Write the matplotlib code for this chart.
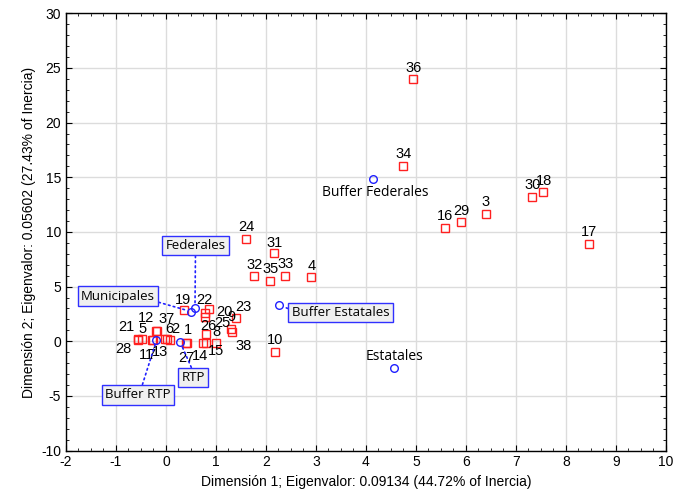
import matplotlib.pyplot as plt
from matplotlib.ticker import MultipleLocator

plt.rcParams['font.family'] = ['Liberation Sans', 'DejaVu Sans']
plt.rcParams['axes.unicode_minus'] = False

# row points (red squares)
row_ids = [str(i) for i in range(1, 39)]
row_x = [0.41, 0.08, 6.40, 2.91, -0.48, 0.03, -0.26, 0.81, 1.31, 2.19,
         -0.27, -0.19, -0.02, 0.75, 1.01, 5.58, 8.46, 7.55, 0.37, 0.78,
         -0.56, 0.87, 1.40, 1.60, 0.78, 0.81, 0.43, -0.55, 5.90, 7.33,
         2.17, 1.77, 2.39, 4.75, 2.09, 4.95, -0.17, 1.33]
row_y = [-0.13, 0.12, 11.65, 5.86, 0.18, 0.18, 0.07, -0.13, 1.10, -0.98,
         0.09, 0.94, 0.18, -0.13, -0.18, 10.39, 8.90, 13.63, 2.86, 2.56,
         0.18, 2.96, 2.10, 9.36, 2.25, 0.64, -0.17, 0.12, 10.89, 13.23,
         8.10, 5.97, 6.00, 16.07, 5.55, 23.97, 0.90, 0.88]

# column points (blue circles)
col_names = ['Federales', 'Municipales', 'Buffer Estatales', 'Buffer Federales',
             'Estatales', 'RTP', 'Buffer RTP']
col_x = [0.58, 0.51, 2.27, 4.15, 4.56, 0.28, -0.19]
col_y = [3.02, 2.71, 3.29, 14.85, -2.47, -0.04, 0.09]

# label offsets in pixels (dx, dy up)
default_off = (0, 11.5)
row_off = {'21': (-12, 12), '28': (-15, -9), '5': (1, 10), '11': (-6, -14.5),
           '7': (-2, -14.5), '12': (-10, 13), '37': (9, 12), '13': (-5, -12.5),
           '6': (2, 10), '2': (5.5, 10.5), '19': (-1, 10), '22': (-5, 9),
           '20': (19, 1.5), '25': (17, -6.5), '23': (7, 11), '9': (0, 12),
           '38': (11, -14), '26': (1.5, 8.5), '1': (1.5, 12.5), '27': (-1.5, -14.5),
           '14': (-3.5, -13.5), '8': (10, 11), '15': (0, -8), '24': (0, 12),
           '31': (0, 10), '18': (1, 11)}

fig = plt.figure(figsize=(6.88, 4.97), dpi=100)
ax = fig.add_axes([0.0959, 0.0934, 0.8721, 0.8798])

ax.plot(row_x, row_y, 's', ms=5.5, mfc='none', mec='#ff2020', mew=1.0, zorder=3)
ax.plot(col_x, col_y, 'o', ms=5.5, mfc='none', mec='#2020ff', mew=1.0, zorder=3)

for lab, x, y in zip(row_ids, row_x, row_y):
    dx, dy = row_off.get(lab, default_off)
    ax.annotate(lab, (x, y), xytext=(dx, dy), textcoords='offset pixels',
                ha='center', va='center', fontsize=10.5, color='black', zorder=4)

# plain column labels
ax.annotate('Buffer Federales', (col_x[3], col_y[3]), xytext=(2, -14),
            textcoords='offset pixels', ha='center', va='center', fontsize=10,
            family='Open Sans', weight='medium')
ax.annotate('Estatales', (col_x[4], col_y[4]), xytext=(1, 12),
            textcoords='offset pixels', ha='center', va='center', fontsize=10,
            family='Open Sans', weight='medium')

# boxed column labels with dotted leader lines
box = dict(boxstyle='square,pad=0.25', fc='#f0f0f0', ec='#3030ff', lw=1.0)
boxed = [
    (0, (0.59, 8.75), (0.5, 0.0)),
    (1, (-0.96, 4.14), (1.0, 0.1)),
    (2, (3.49, 2.63), (0.0, 0.7)),
    (5, (0.54, -3.33), (0.5, 1.0)),
    (6, (-0.56, -4.89), (0.55, 1.0)),
]
for i, txy, rp in boxed:
    ax.annotate(col_names[i], (col_x[i], col_y[i]), xytext=txy, textcoords='data',
                ha='center', va='center', fontsize=9.5, family='Open Sans',
                bbox=box, zorder=5,
                arrowprops=dict(arrowstyle='-', ls=(0, (1, 2)), color='#2020ff',
                                lw=1.2, relpos=rp, shrinkA=0, shrinkB=3))

ax.set_xlim(-2, 10)
ax.set_ylim(-10, 30)
ax.xaxis.set_major_locator(MultipleLocator(1))
ax.xaxis.set_minor_locator(MultipleLocator(0.25))
ax.yaxis.set_major_locator(MultipleLocator(5))
ax.yaxis.set_minor_locator(MultipleLocator(1))
ax.tick_params(which='both', direction='in', top=True, right=True, colors='black',
               labelsize=10)
ax.tick_params(which='major', length=4)
ax.tick_params(which='minor', length=2)
ax.grid(True, which='major', color='#dcdcdc', lw=1.0)
ax.set_axisbelow(True)
for s in ax.spines.values():
    s.set_linewidth(1.0)

ax.set_xlabel('Dimensión 1; Eigenvalor: 0.09134 (44.72% of Inercia)', fontsize=10)
ax.set_ylabel('Dimensión 2; Eigenvalor: 0.05602 (27.43% of Inercia)', fontsize=10)

fig.savefig('out.png', dpi=100)
